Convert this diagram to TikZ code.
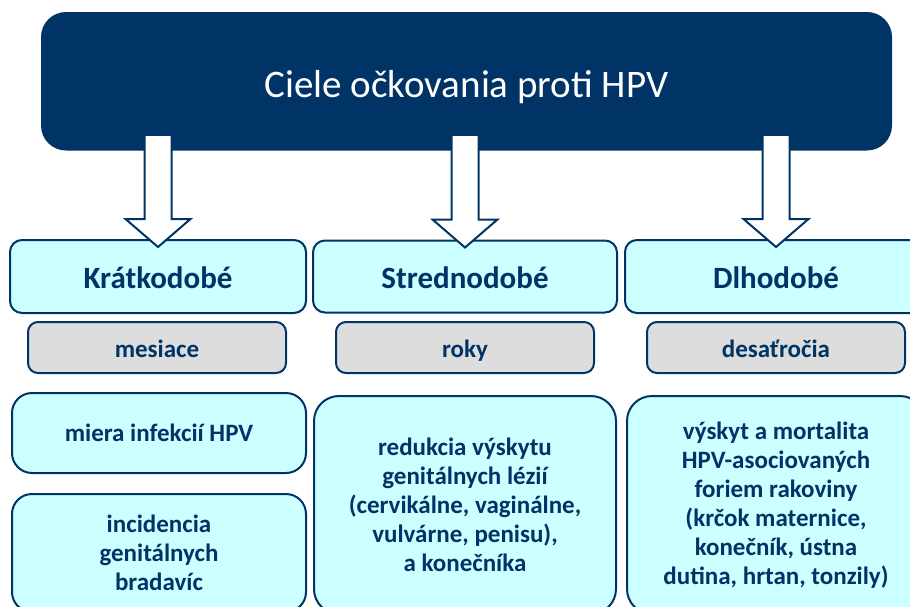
\documentclass[tikz,border=0pt]{standalone}
\usepackage{fontspec}
\setmainfont{Carlito}
\usetikzlibrary{calc}
\definecolor{navy}{RGB}{0,51,102}
\definecolor{lcyan}{RGB}{204,255,255}
\definecolor{lgray}{RGB}{221,221,221}
\tikzset{
  titlebox/.style={draw=none,fill=navy,rounded corners=25pt,text=white,
    font=\fontsize{39}{44}\selectfont,inner sep=0pt,text height=31.5pt,text depth=0pt},
  headbox/.style={draw=navy,line width=2pt,fill=lcyan,rounded corners=12pt,text=navy,
    font=\fontsize{31}{36}\selectfont\bfseries,inner sep=0pt,text height=23pt,text depth=0pt},
  graybox/.style={draw=navy,line width=2pt,fill=lgray,rounded corners=10pt,text=navy,
    font=\fontsize{25}{30}\selectfont\bfseries,inner sep=0pt,text height=19pt,text depth=0pt},
  bodybox/.style={draw=navy,line width=2pt,fill=lcyan,rounded corners=20pt,text=navy,
    font=\fontsize{25}{29}\selectfont\bfseries,align=center,inner sep=0pt},
  blockarrow/.style={draw=navy,line width=2pt,fill=white,line join=miter},
}
\newcommand{\blockarr}[2]{%
  \draw[blockarrow]
    ($(#2.north |- #1.south)+(-13.5,-14.5)$) --
    ($(#2.north)+(-13.5,-20)$) -- ($(#2.north)+(-32.5,-20)$) --
    ($(#2.north)+(0,8)$) --
    ($(#2.north)+(32.5,-20)$) -- ($(#2.north)+(13.5,-20)$) --
    ($(#2.north |- #1.south)+(13.5,-14.5)$);}
\begin{document}
\begin{tikzpicture}[x=1pt,y=-1pt]
\useasboundingbox (0,0) rectangle (910,606);
\clip (0,0) rectangle (910,606);
\node[titlebox,minimum width=851pt,minimum height=138.5pt] (t) at (466.5,81.25) {Ciele očkovania proti HPV};
\node[headbox,minimum width=296pt,minimum height=73pt] (h1) at (158,276.5) {Krátkodobé};
\node[headbox,minimum width=304pt,minimum height=72pt] (h2) at (465,276.5) {Strednodobé};
\node[headbox,minimum width=302pt,minimum height=73pt] (h3) at (776,276.5) {Dlhodobé};
\node[graybox,minimum width=258pt,minimum height=51pt] (g1) at (157,347.5) {mesiace};
\node[graybox,minimum width=258pt,minimum height=51pt] (g2) at (465,347.5) {roky};
\node[graybox,minimum width=258pt,minimum height=51pt] (g3) at (776,347.5) {desaťročia};
\node[bodybox,minimum width=294pt,minimum height=80pt] (b1) at (159,433) {miera infekcií HPV};
\node[bodybox,minimum width=294pt,minimum height=118pt] (b2) at (159,553) {incidencia\\genitálnych\\bradavíc};
\node[bodybox,rounded corners=25pt,minimum width=302pt,minimum height=218pt] (b3) at (465,505) {redukcia výskytu\\genitálnych lézií\\(cervikálne, vaginálne,\\vulvárne, penisu),\\a konečníka};
\node[bodybox,rounded corners=25pt,minimum width=298pt,minimum height=218pt] (b4) at (776,505) {výskyt a mortalita\\HPV-asociovaných\\foriem rakoviny\\(krčok maternice,\\konečník, ústna\\dutina, hrtan, tonzily)};
\blockarr{t}{h1}
\blockarr{t}{h2}
\blockarr{t}{h3}
\end{tikzpicture}
\end{document}
